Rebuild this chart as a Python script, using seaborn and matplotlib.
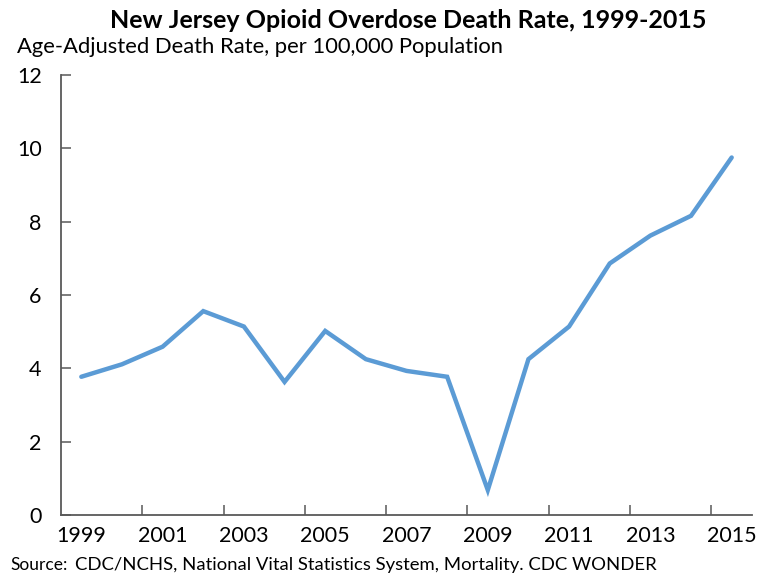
import numpy as np
import pandas as pd
import matplotlib
matplotlib.use("Agg")
import matplotlib.pyplot as plt
from matplotlib.ticker import FixedLocator
import seaborn as sns

# Age-adjusted opioid overdose death rate, New Jersey
years = [1999, 2000, 2001, 2002, 2003, 2004, 2005, 2006, 2007, 2008,
         2009, 2010, 2011, 2012, 2013, 2014, 2015]
rates = [3.77, 4.11, 4.59, 5.56, 5.14, 3.63, 5.02, 4.25, 3.93, 3.77,
         0.68, 4.25, 5.14, 6.86, 7.62, 8.16, 9.75]
year_labels = [str(y) for y in range(1999, 2016, 2)]
y_ticks = [0, 2, 4, 6, 8, 10, 12]

df = pd.DataFrame({"year": years, "rate": rates})

sns.set_theme(style="white")
plt.rcParams["font.family"] = ["Lato", "DejaVu Sans"]

W, H = 757, 577
fig = plt.figure(figsize=(W / 100, H / 100), dpi=100)
ax = fig.add_axes([61 / W, 1 - 515 / H, 691 / W, 440 / H])

sns.lineplot(data=df, x="year", y="rate", ax=ax, color="#5B9BD5",
             linewidth=3.2, solid_joinstyle="miter")

ax.set_xlim(1998.5, 2015.5)
ax.set_ylim(0, 12)
ax.set_xlabel("")
ax.set_ylabel("")

axis_col = "#595959"
for side in ["top", "right"]:
    ax.spines[side].set_visible(False)
for side in ["left", "bottom"]:
    ax.spines[side].set_color(axis_col)
    ax.spines[side].set_linewidth(1.3)

# category labels on odd years, tick marks between categories
ax.xaxis.set_major_locator(FixedLocator([int(s) for s in year_labels]))
ax.set_xticklabels(year_labels)
ax.xaxis.set_minor_locator(FixedLocator(np.arange(2000.5, 2015, 2)))
ax.tick_params(axis="x", which="major", length=0, pad=8, labelsize=15.5,
               labelcolor="black")
ax.tick_params(axis="x", which="minor", direction="in", length=7,
               width=1.1, color=axis_col, bottom=True)

ax.set_yticks(y_ticks)
ax.set_yticklabels([str(v) for v in y_ticks])
ax.tick_params(axis="y", which="major", direction="in", length=7,
               width=1.1, color=axis_col, pad=14, labelsize=15.5,
               labelcolor="black", left=True)
ax.grid(False)

fig.text(408 / W, 1 - 20 / H,
         "New Jersey Opioid Overdose Death Rate, 1999-2015",
         ha="center", va="center", fontsize=18, fontweight="bold",
         color="black")
fig.text(17 / W, 1 - 47 / H,
         "Age-Adjusted Death Rate, per 100,000 Population",
         ha="left", va="center", fontsize=15.8, color="black")
fig.text(10 / W, 1 - 565 / H, "Source:", ha="left", va="center",
         fontsize=12.5, color="black")
fig.text(75 / W, 1 - 565 / H,
         "CDC/NCHS, National Vital Statistics System, Mortality. CDC WONDER",
         ha="left", va="center", fontsize=13.3, color="black")

fig.savefig("out.png", dpi=100, facecolor="white")
